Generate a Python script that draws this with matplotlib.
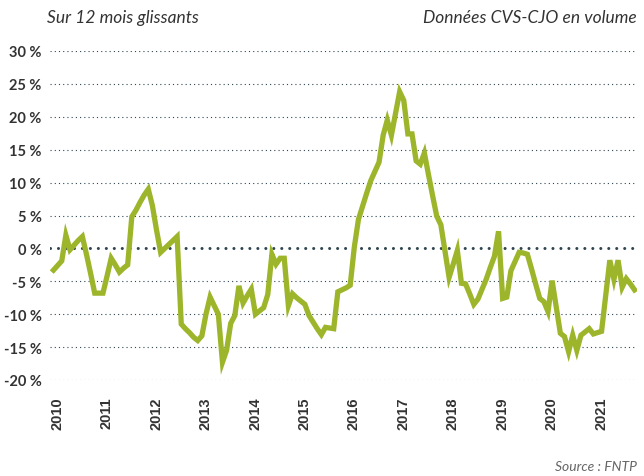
import matplotlib
matplotlib.use("Agg")
import matplotlib.pyplot as plt
import numpy as np

# Monthly year-on-year change (12-month rolling), Jan 2010 -> Oct 2021
values = [
    -3.3, -2.6, -1.9, 2.0, -0.2, 0.5, 1.2, 1.8, -0.9, -3.8, -6.8, -6.8,      # 2010
    -6.8, -4.2, -1.5, -2.5, -3.6, -3.0, -2.5, 4.8, 5.8, 7.0, 8.1, 9.0,       # 2011
    6.5, 2.8, -0.6, 0.0, 0.6, 1.2, 1.8, -11.5, -12.2, -12.8, -13.5, -14.0,   # 2012
    -13.3, -10.0, -7.4, -8.7, -10.0, -17.3, -15.5, -11.4, -10.2, -5.7, -8.3, -7.2,  # 2013
    -6.2, -10.0, -9.5, -9.0, -7.0, -0.9, -2.4, -1.5, -1.5, -8.7, -6.9, -7.5,  # 2014
    -8.0, -8.5, -10.2, -11.2, -12.2, -13.1, -12.0, -12.1, -12.2, -6.6, -6.3, -6.0,  # 2015
    -5.6, 0.2, 4.4, 6.4, 8.4, 10.3, 11.7, 13.1, 17.2, 19.5, 17.2, 20.5,      # 2016
    23.8, 22.5, 17.4, 17.4, 13.3, 12.8, 14.5, 11.2, 8.0, 4.9, 3.6, -0.4,     # 2017
    -4.4, -2.4, -0.3, -5.3, -5.4, -6.9, -8.5, -7.7, -6.2, -4.7, -2.9, -1.2,  # 2018
    2.6, -7.6, -7.4, -3.4, -2.0, -0.6, -0.7, -0.9, -3.1, -5.4, -7.6, -8.1,   # 2019
    -9.6, -4.9, -8.9, -12.9, -13.4, -15.7, -13.2, -15.5, -13.2, -12.7, -12.2, -13.0,  # 2020
    -12.8, -12.6, -7.2, -1.8, -4.7, -1.8, -5.9, -4.6, -5.4, -6.3,            # 2021
]
years = [str(y) for y in range(2010, 2022)]
y_ticks = [30, 25, 20, 15, 10, 5, 0, -5, -10, -15, -20]
y_labels = ["30 %", "25 %", "20 %", "15 %", "10 %", "5 %", "0 %",
            "-5 %", "-10 %", "-15 %", "-20 %"]

line_color = "#9cb52a"
grid_color = "#2f4651"
text_color = "#333333"

fig = plt.figure(figsize=(6.44, 4.77), dpi=100)
ax = fig.add_axes([50 / 644, 1 - 381 / 477, 587 / 644, 329 / 477])

months = np.arange(len(values))

# dotted gridlines, the zero line heavier
for t in y_ticks:
    if t == 0:
        ax.axhline(t, color=grid_color, lw=2.2, linestyle=(0, (0.01, 2.6)),
                   dash_capstyle="round", zorder=1)
    else:
        ax.axhline(t, color=grid_color, lw=0.8, linestyle=(0, (1, 2.8)), zorder=1)

ax.plot(months, values, color=line_color, lw=3.8, solid_joinstyle="miter",
        zorder=3)

ax.set_xlim(-0.85, 141.6)
ax.set_ylim(-20, 30)

ax.set_yticks(y_ticks)
ax.set_yticklabels(y_labels, fontsize=10.5, fontfamily="Lato", fontweight="bold",
                   color=text_color)
# year labels sit just right of the January point
ax.set_xticks(np.arange(len(years)) * 12 + 0.9)
ax.set_xticklabels(years, rotation=90, fontsize=10.5, fontfamily="Liberation Sans",
                   fontweight="bold", color=text_color)
ax.tick_params(axis="both", length=0)
ax.tick_params(axis="y", pad=6)
ax.tick_params(axis="x", pad=12)
for s in ax.spines.values():
    s.set_visible(False)

fig.text(47 / 644, 1 - 18 / 477, "Sur 12 mois glissants", fontsize=12.5,
         fontstyle="italic", fontfamily="Lato", color=text_color, va="center")
fig.text(637 / 644, 1 - 18 / 477, "Données CVS-CJO en volume", fontsize=12.5,
         fontstyle="italic", fontfamily="Lato", color=text_color, va="center",
         ha="right")
fig.text(637 / 644, 1 - 467 / 477, "Source : FNTP", fontsize=10,
         fontstyle="italic", fontfamily="Lato", color="#666666", va="center",
         ha="right")

fig.savefig("out.png", dpi=100)
